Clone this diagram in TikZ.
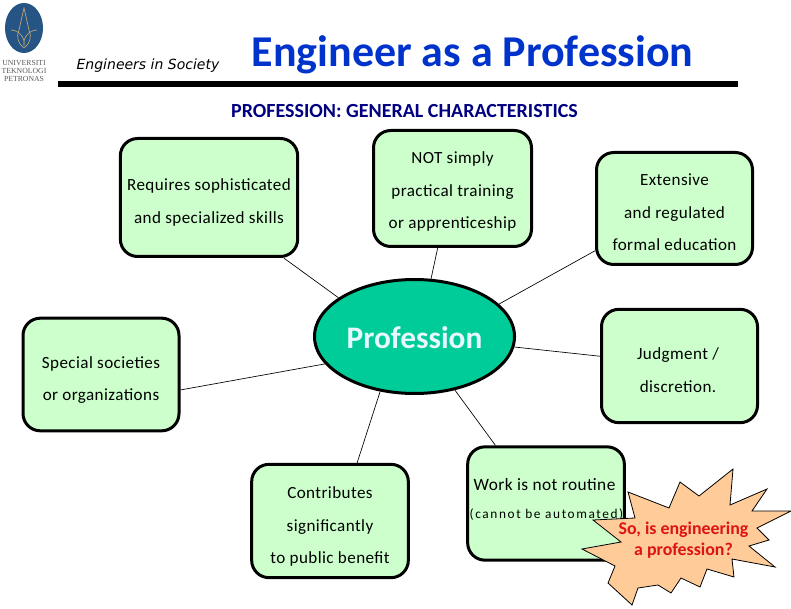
\documentclass[tikz,border=0pt]{standalone}
\usepackage{fontspec}
\setmainfont{Carlito}
\newfontfamily\tagfont{DejaVu Sans}
\newfontfamily\sealfont{Liberation Serif}
\usetikzlibrary{shapes.geometric}
\definecolor{cardgreen}{RGB}{204,255,204}
\definecolor{hubgreen}{RGB}{0,204,153}
\definecolor{titleblue}{RGB}{0,51,204}
\definecolor{headblue}{RGB}{0,0,128}
\definecolor{sealblue}{RGB}{38,84,132}
\definecolor{sealtan}{RGB}{190,170,110}
\definecolor{burstfill}{RGB}{255,204,153}
\definecolor{burstred}{RGB}{220,20,20}
\tikzset{
  card/.style={draw,line width=2.25pt,fill=cardgreen,rounded corners=13pt,inner sep=0pt},
  cardtext/.style={align=center,inner sep=0pt,font=\fontsize{12.8}{24.5}\selectfont\addfontfeature{LetterSpace=2.5}},
  spoke/.style={line width=0.5pt},
  seal/.style={inner sep=0pt,text=black!65,font=\sealfont\fontsize{5.8}{6}\selectfont}
}
\begin{document}
\begin{tikzpicture}[x=0.75pt,y=-0.75pt]
  \useasboundingbox (0,0) rectangle (791,609);

  % logo
  \node[ellipse,fill=sealblue,minimum width=28.5pt,minimum height=37.5pt,inner sep=0pt] (crest) at (24,28) {};
  \draw[sealtan,line width=0.5pt] (24,8) -- (19,30) to[bend right=40] (24,48) to[bend right=40] (29,30) -- cycle;
  \draw[sealtan,line width=0.5pt] (11,30) to[bend left=50] (24,46) to[bend left=50] (37,30);
  \node[seal] (uni) at (24,63) {UNIVERSITI};
  \node[seal] (tek) at (24,71) {TEKNOLOGI};
  \node[seal] (pet) at (24,79) {PETRONAS};

  % header
  \node[inner sep=0pt,font=\tagfont\itshape\fontsize{10.5}{12}\selectfont] (tag) at (148,66) {Engineers in Society};
  \node[inner sep=0pt,text=titleblue,font=\fontsize{33}{38}\selectfont\bfseries] (title) at (472.5,55) {Engineer as a Profession};
  \coordinate (ruleL) at (58,84);
  \coordinate (ruleR) at (738,84);
  \draw[line width=4.5pt] (ruleL) -- (ruleR);
  \node[inner sep=0pt,text=headblue,font=\fontsize{15}{18}\selectfont\bfseries] (head) at (404.5,111) {PROFESSION: GENERAL CHARACTERISTICS};

  % centre
  \node[ellipse,draw,line width=2.25pt,fill=hubgreen,minimum width=150pt,minimum height=85.5pt,inner sep=0pt] (hub) at (414.5,336.5) {};
  \node[inner sep=0pt,text=white!90!cyan,font=\fontsize{23.5}{28}\selectfont\bfseries] (hubtext) at (414.5,338) {Profession};

  % cards
  \node[card,minimum width=133pt,minimum height=88.5pt] (skills) at (209,197.5) {};
  \node[card,minimum width=118.5pt,minimum height=87pt] (training) at (452.5,188.5) {};
  \node[card,minimum width=117pt,minimum height=84pt] (education) at (674.5,208.5) {};
  \node[card,minimum width=117pt,minimum height=85pt] (judgment) at (679.5,366) {};
  \node[card,minimum width=117pt,minimum height=84.5pt] (societies) at (101,374.5) {};
  \node[card,minimum width=117.5pt,minimum height=85pt] (benefit) at (330,521) {};
  \node[card,minimum width=117.5pt,minimum height=85pt] (routine) at (546,503.5) {};

  % card texts
  \node[cardtext] (skillsText) at (209,202.5) {Requires sophisticated\\and specialized skills};
  \node[cardtext] (trainingText) at (452.5,191.5) {NOT simply\\practical training\\or apprenticeship};
  \node[cardtext] (educationText) at (674.5,212.5) {Extensive\\and regulated\\formal education};
  \node[cardtext] (judgmentText) at (678,370) {Judgment /\\discretion.};
  \node[cardtext] (societiesText) at (101,380) {Special societies\\or organizations};
  \node[cardtext] (benefitText) at (330,526.5) {Contributes\\significantly\\to public benefit};
  \node[inner sep=0pt,font=\fontsize{13}{15}\selectfont\addfontfeature{LetterSpace=2.5}] (routineA) at (544.5,485) {Work is not routine};
  \node[inner sep=0pt,font=\fontsize{10}{12}\selectfont\addfontfeature{LetterSpace=12}] (routineB) at (546.5,515) {(cannot be automated)};

  % spokes
  \draw[spoke] (skills.-39.3) -- (hub.153.6);
  \draw[spoke] (training.-104) -- (hub.74);
  \draw[spoke] (education.208) -- (hub.21);
  \draw[spoke] (judgment.173.5) -- (hub.-6.2);
  \draw[spoke] (routine.131.6) -- (hub.-53.9);
  \draw[spoke] (benefit.65.9) -- (hub.-122.9);
  \draw[spoke] (societies.-11) -- (hub.197.9);

  % burst
  \draw[fill=burstfill,line width=0.6pt,line join=miter]
    (628,492) -- (635,518) -- (593,520) -- (621,542) -- (582,549) -- (615,566) -- (608,583)
    -- (632,605) -- (638,588) -- (658,585) -- (671,593) -- (681,578) -- (700,587) -- (707,569)
    -- (734,577) -- (732,559) -- (775,567) -- (749,546) -- (769,540) -- (757,528) -- (791,511)
    -- (752,511) -- (767,489) -- (730,505) -- (733,469) -- (699,496) -- (680,482) -- (669,508) -- cycle;
  \node[inner sep=0pt,text=burstred,align=center,font=\fontsize{13.4}{15.75}\selectfont\bfseries] (burstnote) at (683.5,540.5)
    {So, is engineering\\a profession?};
\end{tikzpicture}
\end{document}
